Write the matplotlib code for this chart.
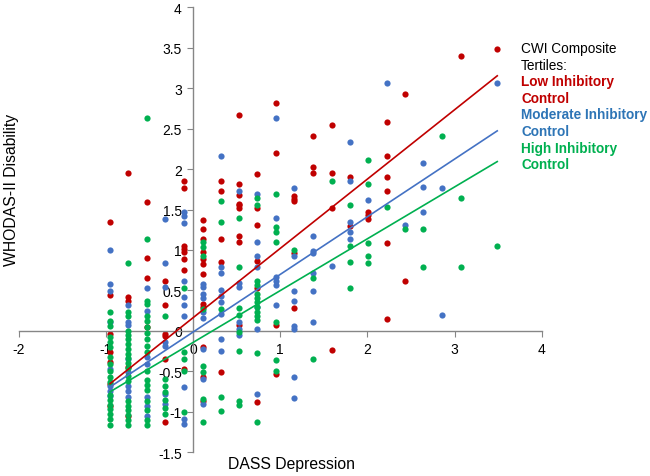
import numpy as np
import matplotlib.pyplot as plt

plt.rcParams['font.family'] = ['Liberation Sans', 'DejaVu Sans']

# DASS depression levels (x) present in the data
# x: -0.95 -0.74 -0.53 -0.32 -0.10 0.11 0.32 0.53 0.74 0.95 1.16 1.38 1.59 1.80 2.01 2.22 2.43 2.64 2.86 3.07 3.28 3.49

# Low inhibitory control (red)
low_x = [-0.95]*7 + [-0.74]*5 + [-0.53]*4 + [-0.32]*6 + [-0.10]*8 + [0.11]*12 \
    + [0.32]*5 + [0.53]*9 + [0.74]*6 + [0.95]*4 + [1.16]*5 + [1.38]*3 + [1.59]*4 \
    + [1.80]*2 + [2.01]*3 + [2.22]*6 + [2.43]*2 + [3.07] + [3.49]
low_y = [1.35, 0.44, -0.04, -0.26, -0.38, -0.65, -0.93,
         1.95, 0.42, 0.37, -0.45, -1.05,
         1.59, 0.90, 0.65, 0.05,
         0.62, 0.32, -0.04, -0.06, -0.35, -1.12,
         1.85, 1.77, 1.05, 1.01, 0.98, 0.89, 0.75, -0.47,
         1.37, 1.26, 1.14, 0.98, 0.89, 0.83, 0.70, 0.33, 0.30, -0.20, -0.57, -0.86,
         1.85, 1.73, 1.14, 0.85, -0.51,
         2.67, 1.81, 1.68, 1.57, 1.56, 1.52, 1.17, 1.10, 0.07,
         1.94, 1.52, 1.31, 0.86, 0.53, -0.88,
         2.81, 2.20, 0.07, -0.53,
         1.67, 1.60, 0.96, 0.28, 1.63,
         2.41, 2.02, 1.95,
         2.54, 1.95, 1.52, -0.23,
         1.90, 1.30,
         1.47, 1.43, 1.38,
         2.58, 2.16, 1.90, 1.73, 1.09, 0.15,
         2.93, 0.62,
         3.40,
         3.48]

# Moderate inhibitory control (blue)
mod_x = [-0.95]*8 + [-0.74]*8 + [-0.53]*7 + [-0.32]*7 + [-0.10]*10 + [0.11]*9 \
    + [0.32]*9 + [0.53]*6 + [0.74]*7 + [0.95]*6 + [1.16]*8 + [1.38]*6 + [1.59] \
    + [1.80]*5 + [2.01] + [2.22] + [2.43] + [2.64]*3 + [2.86]*2 + [3.49]
mod_y = [1.00, 0.58, 0.49, 0.11, -0.47, -0.68, -0.74, -0.80,
         0.32, 0.11, 0.07, -0.35, -0.51, -0.68, -0.74, -0.81,
         0.53, 0.25, -0.32, -0.41, -0.81, -0.93, -1.05,
         1.38, 0.84, 0.54, -0.14, -0.19, -0.78, -0.90,
         1.47, 1.42, 1.33, 0.62, 0.42, 0.32, 0.19, -0.69, -1.09, -1.15,
         0.58, 0.54, 0.46, 0.41, 0.23, 0.16, -0.22, -0.59, -0.90,
         2.16, 0.79, 0.72, 0.51, 0.43, 0.36, 0.21, -0.10, -0.25,
         1.73, 0.59, 0.54, 0.11, 0.02, -0.05,
         1.69, 1.10, 0.93, 0.79, 0.30, 0.02, -0.78,
         2.63, 1.40, 0.67, 0.62, 0.57, 0.32,
         1.77, 0.93, 0.49, 0.37, 0.06, 0.02, -0.57, -0.83,
         1.17, 0.99, 0.96, 0.72, 0.49, 0.11,
         0.80,
         2.33, 1.85, 1.35, 1.22, 1.14,
         1.62,
         3.06,
         1.31,
         2.07, 1.78, 1.47,
         1.77, 0.20,
         3.06]

# High inhibitory control (green)
high_x = [-0.95]*18 + [-0.74]*20 + [-0.53]*19 + [-0.32]*7 + [-0.10]*5 + [0.11]*8 \
    + [0.32]*5 + [0.53]*8 + [0.74]*13 + [0.95]*7 + [1.16] + [1.38]*2 + [1.59] \
    + [1.80]*4 + [2.01]*5 + [2.22] + [2.43] + [2.64]*2 + [2.86] + [3.07]*2 + [3.49]
high_y = [0.23, 0.12, 0.06, -0.07, -0.14, -0.20, -0.32, -0.41, -0.49, -0.57,
          -0.63, -0.79, -0.85, -0.91, -0.96, -1.02, -1.09, -1.16,
          0.84, 0.23, 0.19, 0.00, -0.05, -0.10, -0.16, -0.22, -0.28, -0.33,
          -0.40, -0.46, -0.56, -0.62, -0.86, -0.92, -0.98, -1.04, -1.10, -1.16,
          2.63, 1.14, 0.37, 0.33, 0.19, 0.12, 0.05, -0.02, -0.10, -0.18, -0.26,
          -0.50, -0.60, -0.67, -0.73, -0.86, -0.97, -1.10, -1.16,
          0.19, -0.59, -0.68, -0.75, -0.85, -0.95, -1.02,
          0.53, -0.26, -0.35, -0.50, -1.00,
          1.10, 1.04, 0.93, 0.27, -0.43, -0.51, -0.84, -1.12,
          1.60, 1.35, 0.27, -0.81, -0.99,
          1.40, 0.79, 0.28, 0.20, -0.01, -0.25, -0.86, -0.91,
          1.64, 1.56, 0.62, 0.57, 0.46, 0.41, 0.36, 0.30, 0.23, 0.19, 0.13, -0.27, -1.12,
          1.69, 1.28, 1.22, 1.10, 0.11, -0.36, -0.49,
          1.00,
          0.65, -0.35,
          1.85,
          1.56, 1.05, 0.85, 0.53,
          2.11, 1.81, 1.09, 0.93, 0.84,
          1.53,
          1.26,
          1.26, 0.79,
          2.41,
          1.64, 0.79,
          1.05]

# fitted trend lines: slope, intercept
colors = ['#C00000', '#4472C4', '#00B050']
trend_slope = [0.856, 0.712, 0.640]
trend_intercept = [0.163, -0.014, -0.142]
x_range = [-0.95, 3.49]

legend_lines = ['CWI Composite', 'Tertiles:', 'Low Inhibitory', 'Control',
                'Moderate Inhibitory', 'Control', 'High Inhibitory', 'Control']
legend_colors = ['black', 'black', '#C00000', '#C00000',
                 '#2E75B6', '#2E75B6', '#00B050', '#00B050']

fig = plt.figure(figsize=(6.5, 4.77), dpi=100)
ax = fig.add_axes([0.0286, 0.0493, 0.8048, 0.9339])

ax.scatter(low_x, low_y, s=20, color=colors[0], linewidths=0, zorder=2)
ax.scatter(mod_x, mod_y, s=20, color=colors[1], linewidths=0, zorder=3)
ax.scatter(high_x, high_y, s=20, color=colors[2], linewidths=0, zorder=4)

xs = np.array(x_range)
for m, b, c in zip(trend_slope, trend_intercept, colors):
    ax.plot(xs, m * xs + b, color=c, lw=1.2, zorder=5)

ax.set_xlim(-2, 4)
ax.set_ylim(-1.5, 4)
ax.set_xticks(range(-2, 5))
ax.set_yticks(np.arange(-1.5, 4.01, 0.5))
ax.set_xticklabels([str(v) for v in range(-2, 5)])
ax.set_yticklabels(['-1.5', '-1', '-0.5', '0', '0.5', '1', '1.5', '2', '2.5', '3', '3.5', '4'])

for s in ['top', 'right']:
    ax.spines[s].set_visible(False)
ax.spines['left'].set_position(('data', 0))
ax.spines['bottom'].set_position(('data', 0))
for s in ['left', 'bottom']:
    ax.spines[s].set_color('#868686')
    ax.spines[s].set_linewidth(1.0)
ax.tick_params(direction='out', length=4, color='#868686', labelsize=10,
               labelcolor='black', pad=4)
ax.patch.set_alpha(0)

fig.text(12 / 650, 1 - 190 / 477, 'WHODAS-II Disability', rotation=90,
         ha='center', va='center', fontsize=11.3)
fig.text(292 / 650, 1 - 465 / 477, 'DASS Depression', ha='center',
         va='center', fontsize=11.3)

for i, (t, c) in enumerate(zip(legend_lines, legend_colors)):
    weight = 'normal' if c == 'black' else 'bold'
    fig.text(521 / 650, 1 - (49 + i * 16.6) / 477, t, color=c, fontsize=9.8,
             fontweight=weight, ha='left', va='center')

fig.savefig('out.png', dpi=100)
